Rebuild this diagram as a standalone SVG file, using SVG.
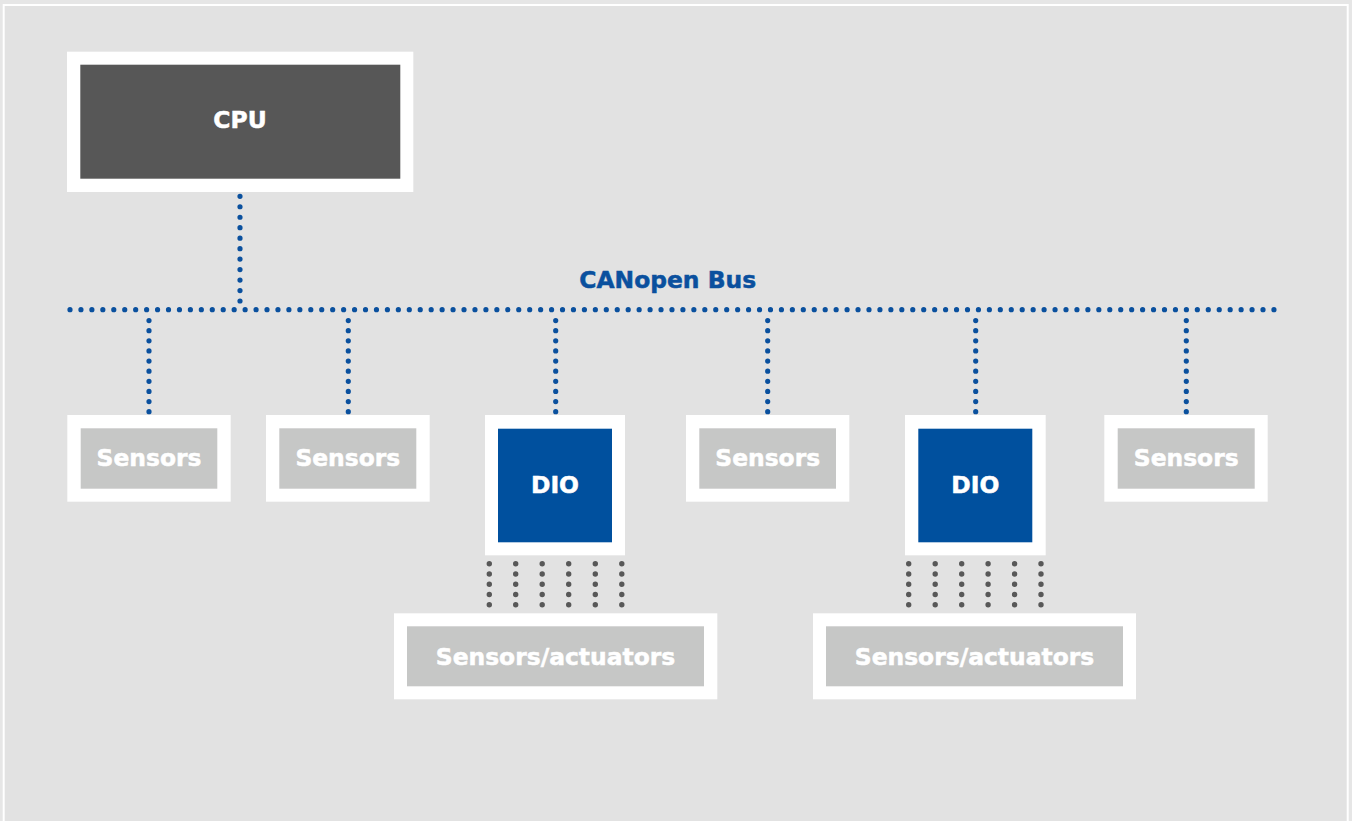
<svg xmlns="http://www.w3.org/2000/svg" width="1352" height="821" viewBox="0 0 1352 821">
  <style>
    .frame { fill: #ffffff; }
    .inS { fill: #c6c7c6; }
    .inCPU { fill: #575757; }
    .inDIO { fill: #00509e; }
    .lbl { font-family: "DejaVu Sans", "Liberation Sans", sans-serif; font-weight: bold; font-size: 23.4px; fill: #ffffff; text-anchor: middle; stroke: #ffffff; stroke-width: 0.5; }
    .bus { font-family: "DejaVu Sans", "Liberation Sans", sans-serif; font-weight: bold; font-size: 23.4px; fill: #0a509e; text-anchor: middle; stroke: #0a509e; stroke-width: 0.5; }
    .blue { fill: none; stroke: #0a509e; stroke-width: 5.2; stroke-linecap: round; }
    .gray { fill: none; stroke: #585858; stroke-width: 5.4; stroke-linecap: round; stroke-dasharray: 0 10.25; }
  </style>
  <rect x="0" y="0" width="1352" height="821" fill="#e6e6e6"/>
  <rect x="3.7" y="5" width="1344" height="830" fill="#e2e2e2" stroke="#ffffff" stroke-width="2"/>

  <g id="connectors">
    <path class="blue" d="M240 196.3 V301.5" stroke-dasharray="0 10.47"/>
    <path class="blue" d="M70 309.7 H1274.5" stroke-dasharray="0 10.945"/>
    <path class="blue" d="M149 411.7 V320" stroke-dasharray="0 10.13"/>
    <path class="blue" d="M348.3 411.7 V320" stroke-dasharray="0 10.13"/>
    <path class="blue" d="M555.7 411.7 V320" stroke-dasharray="0 10.13"/>
    <path class="blue" d="M767.7 411.7 V320" stroke-dasharray="0 10.13"/>
    <path class="blue" d="M975.7 411.7 V320" stroke-dasharray="0 10.13"/>
    <path class="blue" d="M1186.3 411.7 V320" stroke-dasharray="0 10.13"/>
    <g id="dio1-lines">
      <path class="gray" d="M489.3 563.7 V605.2"/>
      <path class="gray" d="M515.7 563.7 V605.2"/>
      <path class="gray" d="M542.2 563.7 V605.2"/>
      <path class="gray" d="M568.7 563.7 V605.2"/>
      <path class="gray" d="M595.3 563.7 V605.2"/>
      <path class="gray" d="M621.8 563.7 V605.2"/>
    </g>
    <g id="dio2-lines">
      <path class="gray" d="M908.7 563.7 V605.2"/>
      <path class="gray" d="M935.2 563.7 V605.2"/>
      <path class="gray" d="M961.7 563.7 V605.2"/>
      <path class="gray" d="M988.1 563.7 V605.2"/>
      <path class="gray" d="M1014.6 563.7 V605.2"/>
      <path class="gray" d="M1041 563.7 V605.2"/>
    </g>
  </g>

  <text class="bus" x="667.7" y="288">CANopen Bus</text>

  <g id="cpu">
    <rect class="frame" x="67" y="51.7" width="346.3" height="140.3"/>
    <rect class="inCPU" x="80.3" y="64.7" width="320" height="114"/>
    <text class="lbl" x="240" y="127.7">CPU</text>
  </g>

  <g id="sensors1">
    <rect class="frame" x="67.3" y="415" width="163.4" height="86.7"/>
    <rect class="inS" x="80.7" y="428.3" width="136.6" height="60.4"/>
    <text class="lbl" x="149" y="465.7">Sensors</text>
  </g>
  <g id="sensors2">
    <rect class="frame" x="266" y="415" width="163.7" height="86.7"/>
    <rect class="inS" x="279.3" y="428.3" width="137" height="60.4"/>
    <text class="lbl" x="347.8" y="465.7">Sensors</text>
  </g>
  <g id="dio1">
    <rect class="frame" x="485" y="415" width="140" height="140.3"/>
    <rect class="inDIO" x="498" y="428.7" width="114" height="113.6"/>
    <text class="lbl" x="555" y="493">DIO</text>
  </g>
  <g id="sensors3">
    <rect class="frame" x="686" y="415" width="163.3" height="86.7"/>
    <rect class="inS" x="699.3" y="428.3" width="136.7" height="60.4"/>
    <text class="lbl" x="767.7" y="465.7">Sensors</text>
  </g>
  <g id="dio2">
    <rect class="frame" x="905" y="415" width="140.7" height="140.3"/>
    <rect class="inDIO" x="918.3" y="428.7" width="114" height="113.6"/>
    <text class="lbl" x="975.3" y="493">DIO</text>
  </g>
  <g id="sensors4">
    <rect class="frame" x="1104.3" y="415" width="163.4" height="86.7"/>
    <rect class="inS" x="1117.7" y="428.3" width="137" height="60.4"/>
    <text class="lbl" x="1186.2" y="465.7">Sensors</text>
  </g>
  <g id="sensact1">
    <rect class="frame" x="394" y="613.3" width="323.3" height="86"/>
    <rect class="inS" x="407" y="626.3" width="297" height="60"/>
    <text class="lbl" x="555.5" y="664.5">Sensors/actuators</text>
  </g>
  <g id="sensact2">
    <rect class="frame" x="813" y="613.3" width="323" height="86"/>
    <rect class="inS" x="826" y="626.3" width="297" height="60"/>
    <text class="lbl" x="974.5" y="664.5">Sensors/actuators</text>
  </g>
</svg>
